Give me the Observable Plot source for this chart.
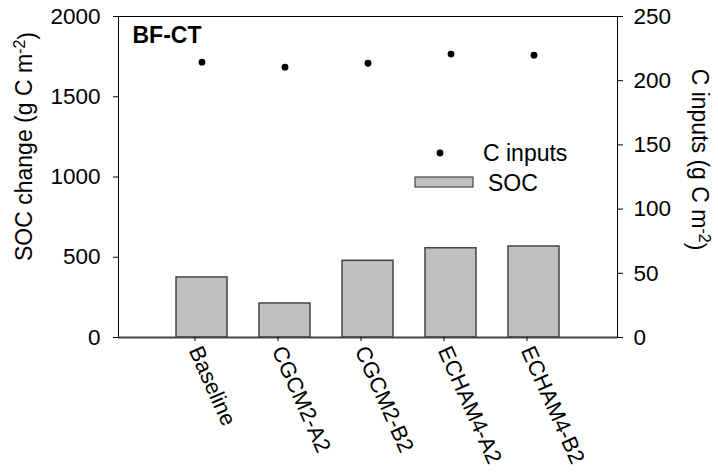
<!DOCTYPE html>
<html>
<head>
<meta charset="utf-8">
<script src="https://cdn.jsdelivr.net/npm/d3@7"></script>
<script src="https://cdn.jsdelivr.net/npm/@observablehq/plot@0.6"></script>
<style>
  html, body { margin: 0; padding: 0; background: white; }
  #chart { position: relative; width: 718px; height: 474px; }
</style>
</head>
<body>
<div id="chart"></div>
<script>
const categories = ["Baseline", "CGCM2-A2", "CGCM2-B2", "ECHAM4-A2", "ECHAM4-B2"];
const socChange = [374, 212, 478, 556, 567];
const cInputs = [214.4, 210.5, 213.6, 220.7, 219.9];
const leftTicks = [0, 500, 1000, 1500, 2000];
const rightTicks = [0, 50, 100, 150, 200, 250];
const leftMax = 2000;
const rightMax = 250;
const ratio = leftMax / rightMax;

const data = categories.map((c, i) => ({cat: c, soc: socChange[i], cin: cInputs[i]}));

const FONT = "'Liberation Sans', Arial, sans-serif";

const plot = Plot.plot({
  width: 718,
  height: 474,
  marginLeft: 118,
  marginRight: 101,
  marginTop: 16,
  marginBottom: 137,
  style: {fontFamily: FONT, fontSize: "22px", color: "black", background: "white", overflow: "visible"},
  x: {domain: categories, paddingInner: 0.386, paddingOuter: 0.693},
  y: {domain: [0, leftMax]},
  marks: [
    Plot.barY(data, {x: "cat", y: "soc", fill: "#c0c0c0", stroke: "#444", strokeWidth: 1.5}),
    Plot.dot(data, {x: "cat", y: d => d.cin * ratio, r: 3.4, fill: "black", stroke: null}),
    Plot.frame({stroke: "black", strokeWidth: 1}),
    Plot.ruleY([0], {stroke: "#444", strokeWidth: 2}),
    Plot.axisY({anchor: "left", ticks: leftTicks, tickFormat: d => String(d), tickSize: 5, tickPadding: 13, label: null, fontSize: 22.5}),
    Plot.axisY({anchor: "right", ticks: rightTicks.map(v => v * ratio), tickFormat: v => String(v / ratio), tickSize: 5, tickPadding: 11, label: null, fontSize: 22.5}),
    Plot.axisX({tickRotate: 66, tickSize: 4, tickPadding: 6, label: null, fontSize: 22, dx: -7}),
    Plot.text(["BF-CT"], {frameAnchor: "top-left", dx: 14, dy: 26, text: d => d, textAnchor: "start", lineAnchor: "bottom", fontWeight: "bold", fontSize: 23}),
    Plot.text(["SOC change (g C m-2)"], {frameAnchor: "left", dx: -94, dy: -30.5, rotate: -90, textAnchor: "middle", lineAnchor: "middle", text: d => d, fontSize: 23}),
    Plot.text(["C inputs (g C m-2)"], {frameAnchor: "right", dx: 82, dy: -17.5, rotate: 90, textAnchor: "middle", lineAnchor: "middle", text: d => d, fontSize: 23})
  ]
});

// superscripts in axis titles
d3.select(plot).selectAll("text").each(function() {
  const t = this.textContent;
  if (t.endsWith("m-2)")) {
    const el = d3.select(this);
    el.text(null);
    el.append("tspan").text(t.slice(0, -3));
    el.append("tspan").attr("dy", "-0.45em").attr("font-size", "16px").text("-2");
    el.append("tspan").attr("dy", "0.45em").text(")");
  }
});

// legend inside plot area (relative to frame top-left)
const svg = d3.select(plot);
const lg = svg.append("g").attr("transform", "translate(118,16)")
  .attr("font-family", FONT).attr("font-size", 23).attr("text-anchor", "start");
lg.append("circle").attr("cx", 322).attr("cy", 137).attr("r", 3.4).attr("fill", "black");
lg.append("text").attr("x", 365).attr("y", 137).attr("dy", "0.35em").text("C inputs");
lg.append("rect").attr("x", 297).attr("y", 161).attr("width", 58).attr("height", 10)
  .attr("fill", "#c0c0c0").attr("stroke", "#444").attr("stroke-width", 1.2);
lg.append("text").attr("x", 370).attr("y", 166.5).attr("dy", "0.35em").text("SOC");

document.getElementById("chart").appendChild(plot);
</script>
</body>
</html>
